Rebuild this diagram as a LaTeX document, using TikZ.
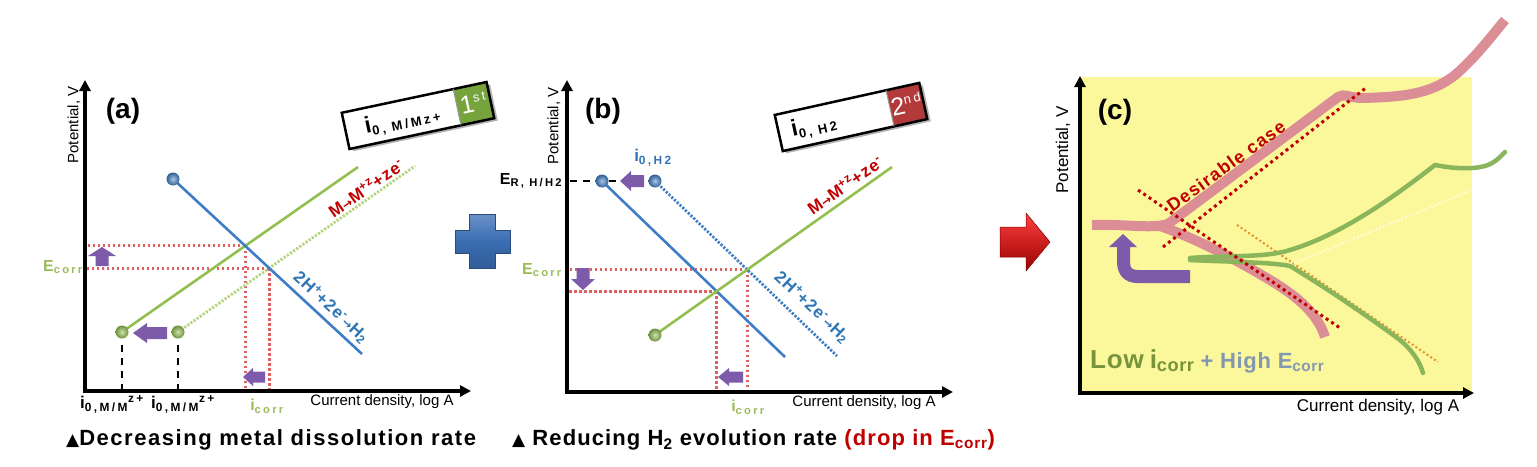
\documentclass[tikz,border=0pt]{standalone}
\usepackage{fontspec}
\setmainfont{Liberation Sans}
\newfontfamily\dejavu{DejaVu Sans}
\newfontfamily\spc[LetterSpace=20]{Liberation Sans}
\newfontfamily\spcb[LetterSpace=7]{Liberation Sans}
\newfontfamily\capf[LetterSpace=5]{Liberation Sans}
\newfontfamily\capfa[LetterSpace=7]{Liberation Sans}
\newfontfamily\lowf[LetterSpace=3]{Liberation Sans}
\usetikzlibrary{arrows.meta,calc}
\definecolor{lgreen}{HTML}{92C050}
\definecolor{pgreen}{HTML}{B5D47E}
\definecolor{boxgreen}{HTML}{76A33C}
\definecolor{boxred}{HTML}{B23A3A}
\definecolor{lblue}{HTML}{3F7EC6}
\definecolor{rdot}{HTML}{E26060}
\definecolor{purp}{HTML}{7E5BAA}
\definecolor{olive}{HTML}{9BBB59}
\definecolor{dred}{HTML}{C00000}
\definecolor{tblue}{HTML}{2E75B6}
\definecolor{yel}{HTML}{FBF89C}
\definecolor{pinkc}{HTML}{DC8E96}
\definecolor{cgreen}{HTML}{8AB55A}
\definecolor{orng}{HTML}{E8902A}
\definecolor{lowg}{HTML}{77933C}
\definecolor{highb}{HTML}{8497B0}
\definecolor{crossb}{HTML}{3A6DB3}
\newcommand\fs[1]{\fontsize{#1}{#1}\selectfont}
\newcommand\purparrow[6]{\fill[purp, shift={#1}, rotate=#2] (0,0) -- (#4,-#5) -- (#4,-#6) -- (#3,-#6) -- (#3,#6) -- (#4,#6) -- (#4,#5) -- cycle;}
\tikzset{
  axisline/.style={line width=3.2pt, line join=miter, {Triangle[length=11pt,width=11pt]}-{Triangle[length=11pt,width=11pt]}},
  reddot/.style={rdot, line width=2.8pt, dash pattern=on 2.6pt off 2.4pt},
  gline/.style={lgreen, line width=2.6pt},
  bline/.style={lblue, line width=2.6pt},
  gdot/.style={pgreen, line width=2.8pt, dash pattern=on 2.2pt off 1.6pt},
  bdot/.style={lblue, line width=2.8pt, dash pattern=on 2.2pt off 1.6pt},
  blackdash/.style={black, line width=2.5pt, dash pattern=on 7pt off 6pt},
  gball/.style={circle, inner sep=0pt, minimum size=13pt, shading=radial, inner color=lgreen!45!white, outer color=lgreen!75!black},
  bball/.style={circle, inner sep=0pt, minimum size=13pt, shading=radial, inner color=lblue!45!white, outer color=lblue!75!black},
  axlab/.style={font=\fs{15}},
  panlab/.style={font=\fs{28}\bfseries},
  eqred/.style={text=dred, font=\fs{17}\bfseries\spcb, inner sep=0pt},
  eqblue/.style={text=tblue, font=\fs{17}\bfseries\spcb, inner sep=0pt},
  corrlab/.style={text=olive, font=\fs{16}\bfseries, inner sep=0pt},
  ilab/.style={font=\fs{17}\bfseries, inner sep=0pt},
  caption/.style={anchor=west, font=\fs{22}\bfseries\capf, inner sep=0pt},
  pinkline/.style={pinkc, line width=10pt, line cap=butt},
  cgline/.style={cgreen, line width=4.5pt, line cap=round},
  ddot/.style={dred, line width=3pt, dash pattern=on 3pt off 3.5pt},
}
\begin{document}
\begin{tikzpicture}[x=1pt,y=-1pt]
\useasboundingbox (0,0) rectangle (1537,466);
% ================= panel (a)
\coordinate (aO) at (85,391);
\coordinate (aG1) at (122,332); \coordinate (aG1e) at (358,167);
\coordinate (aG2) at (178,332); \coordinate (aG2e) at (415,166);
\coordinate (aB) at (173,179); \coordinate (aBe) at (362,354);
\coordinate (aX1) at (intersection of aG1--aG1e and aB--aBe);
\coordinate (aX2) at (intersection of aG2--aG2e and aB--aBe);
\draw[reddot] (aX1) -- (aX1 -| aO);
\draw[reddot] (aX2) -- (aX2 -| aO);
\draw[reddot] (aX1) -- (aX1 |- aO);
\draw[reddot] (aX2) -- (aX2 |- aO);
\draw[gdot] (aG2) -- (aG2e);
\draw[gline] (aG1) -- (aG1e);
\draw[bline] (aB) -- (aBe);
\draw[blackdash] ($(aG1)+(0,13)$) -- (aG1 |- aO);
\draw[blackdash] ($(aG2)+(0,13)$) -- (aG2 |- aO);
\node[gball] (ga1) at (aG1) {};
\node[gball] (ga2) at (aG2) {};
\node[bball] (ba1) at (aB) {};
\draw[axisline] (85,80) -- (aO) -- (471,391);
\purparrow{(133,333)}{0}{34}{14}{10}{6}
\purparrow{(243,377)}{0}{22}{10}{9}{5.5}
\purparrow{(102,247)}{-90}{19}{9}{14}{6.5}
\node[panlab] (la) at (123,111) {(a)};
\node[axlab, rotate=90] (pa) at (74,125) {Potential, V};
\node[axlab] (xa) at (382,402) {Current density, log A};
\node[corrlab] (ea) at (63,267) {E\textsubscript{\spc corr}};
\node[corrlab] (ia) at (267,406) {i\textsubscript{\spc corr}};
\node[ilab] (i1) at (112,404) {i\textsubscript{\spc 0,M/M}\textsuperscript{\spc z+}};
\node[ilab] (i2) at (183,404) {i\textsubscript{\spc 0,M/M}\textsuperscript{\spc z+}};
\node[eqred, rotate=35] (ma) at (366,188) {M{\dejavu\fs{12}→}M\textsuperscript{+z}+ze\textsuperscript{-}};
\node[eqblue, rotate=-43] (ha) at (331,307) {2H\textsuperscript{+}+2e\textsuperscript{-}{\dejavu\fs{12}→}H\textsubscript{2}};
\begin{scope}[shift={(418,115.5)}, rotate=12, transform shape]
  \fill[black!30] (-71,-15.5) rectangle (77,21.5);
  \fill[white] (-74,-18.5) rectangle (74,18.5);
  \fill[boxgreen] (40,-18.5) rectangle (74,18.5);
  \draw[line width=2.5pt] (-74,-18.5) rectangle (74,18.5);
  \draw[line width=1pt, black!40] (40,-18.5) -- (40,18.5);
  \node[font=\fs{23}\bfseries, inner sep=0pt] (boxa) at (-16,1) {i\textsubscript{\fs{13}\spc 0, M/Mz+}};
  \node[font=\fs{25}, text=white, inner sep=0pt] (firsta) at (57,-1) {1\textsuperscript{\fs{13}\spc st}};
\end{scope}
% ================= plus
\shade[top color=crossb!75!white, bottom color=crossb!85!black, middle color=crossb, draw=crossb!70!black, line width=0.6pt]
  (469,214) -- (495,214) -- (495,230) -- (510,230) -- (510,253) -- (495,253) -- (495,268) -- (469,268) -- (469,253) -- (455,253) -- (455,230) -- (469,230) -- cycle;
% ================= panel (b)
\coordinate (bO) at (567,392);
\coordinate (bB1) at (602,181); \coordinate (bB1e) at (785,357);
\coordinate (bB2) at (655,181); \coordinate (bB2e) at (837,356);
\coordinate (bG) at (655,335); \coordinate (bGe) at (892,167);
\coordinate (bX1) at (intersection of bG--bGe and bB2--bB2e);
\coordinate (bX2) at (intersection of bG--bGe and bB1--bB1e);
\draw[reddot] (bX1) -- (bX1 -| bO);
\draw[reddot] (bX2) -- (bX2 -| bO);
\draw[reddot] (bX1) -- (bX1 |- bO);
\draw[reddot] (bX2) -- (bX2 |- bO);
\draw[blackdash] (bB2) -- (bB2 -| bO);
\draw[bdot] (bB2) -- (bB2e);
\draw[bline] (bB1) -- (bB1e);
\draw[gline] (bG) -- (bGe);
\node[bball] (bb1) at (bB1) {};
\node[bball] (bb2) at (bB2) {};
\node[gball] (gb1) at (bG) {};
\draw[axisline] (567,80) -- (bO) -- (953,392);
\purparrow{(620,181)}{0}{24}{11}{10}{6}
\purparrow{(718,377)}{0}{25}{11}{9}{5.5}
\purparrow{(583,290)}{90}{22}{11}{12}{6.5}
\node[panlab] (lb) at (603,111) {(b)};
\node[axlab, rotate=90] (pb) at (554,126) {Potential, V};
\node[axlab] (xb) at (864,403) {Current density, log A};
\node[corrlab] (eb) at (542,270) {E\textsubscript{\spc corr}};
\node[corrlab] (ib) at (748,407) {i\textsubscript{\spc corr}};
\node[ilab, font=\fs{16}\bfseries] (erb) at (531,181) {E\textsubscript{\spc R, H/H2}};
\node[ilab, text=tblue] (i0b) at (653,158) {i\textsubscript{\spc 0,H2}};
\node[eqred, rotate=35] (mb) at (845,185) {M{\dejavu\fs{12}→}M\textsuperscript{+z}+ze\textsuperscript{-}};
\node[eqblue, rotate=-43] (hb) at (812,307) {2H\textsuperscript{+}+2e\textsuperscript{-}{\dejavu\fs{12}→}H\textsubscript{2}};
\begin{scope}[shift={(851,117)}, rotate=12.5, transform shape]
  \fill[black!30] (-71,-15.5) rectangle (77,21.5);
  \fill[white] (-74,-18.5) rectangle (74,18.5);
  \fill[boxred] (40,-18.5) rectangle (74,18.5);
  \draw[line width=2.5pt] (-74,-18.5) rectangle (74,18.5);
  \draw[line width=1pt, black!40] (40,-18.5) -- (40,18.5);
  \node[font=\fs{23}\bfseries, inner sep=0pt] (boxb) at (-38,1) {i\textsubscript{\fs{13}\spc 0, H2}};
  \node[font=\fs{25}, text=white, inner sep=0pt] (seconda) at (57,-1) {2\textsuperscript{\fs{13}\spc nd}};
\end{scope}
% ================= red arrow
\shade[top color=red!75!white, bottom color=red!60!black, draw=red!50!black, line width=0.5pt]
  (1000,227) -- (1026,227) -- (1026,213) -- (1050,242) -- (1026,271) -- (1026,257) -- (1000,257) -- cycle;
% ================= panel (c)
\fill[yel] (1080,77) rectangle (1472,392);
\draw[orng, line width=2pt, dash pattern=on 2pt off 2.5pt] (1237,225) -- (1438,362);
\draw[white!85!yellow, line width=2pt, dash pattern=on 2pt off 2pt] (1283,268) -- (1472,190);
\draw[pinkline] (1092,225) .. controls (1130,224) and (1150,229) .. (1168,224)
   -- (1338,97) .. controls (1344,93) and (1350,98) .. (1362,98)
   .. controls (1400,97) and (1430,95) .. (1455,75) .. controls (1475,58) and (1490,38) .. (1505,20);
\draw[pinkline] (1160,226) .. controls (1200,240) and (1240,262) .. (1270,280)
   .. controls (1300,298) and (1318,315) .. (1325,337);
\draw[cgline] (1190,258) .. controls (1230,255) and (1265,258) .. (1290,250)
   .. controls (1340,235) and (1390,200) .. (1435,165)
   .. controls (1450,168) and (1470,170) .. (1485,166) .. controls (1495,163) and (1500,157) .. (1505,152);
\draw[cgline] (1190,260) .. controls (1230,262) and (1270,262) .. (1290,266)
   .. controls (1330,290) and (1380,325) .. (1400,340) .. controls (1412,350) and (1420,362) .. (1423,373);
\draw[ddot] (1163,247) -- (1367,87);
\draw[ddot] (1138,190) -- (1340,328);
\fill[purp] (1123,234) -- (1137,247) -- (1130,247) -- (1130,262) .. controls (1130,268) and (1132,270) .. (1138,270)
   -- (1190,270) -- (1190,283) -- (1137,283) .. controls (1125,283) and (1117,275) .. (1117,262) -- (1117,247) -- (1109,247) -- cycle;
\draw[axisline] (1080,76) -- (1080,393) -- (1474,393);
\node[panlab] (lcc) at (1115,112) {(c)};
\node[axlab, font=\fs{17}, rotate=90] (pc) at (1063,150) {Potential, V};
\node[axlab, font=\fs{17}] (xc) at (1378,407) {Current density, log A};
\node[text=dred, font=\fs{18}\bfseries\spcb, rotate=36] (des) at (1226,166) {Desirable case};
\node[anchor=base west, inner sep=0pt, font=\bfseries\lowf] (low) at (1090,368)
  {\textcolor{lowg}{\fs{26}Low\hspace{6pt}i\textsubscript{corr}}\hspace{6pt}\textcolor{highb}{\fs{22}+ High E\textsubscript{corr}}};
% ================= captions
\node[caption, font=\fs{22}\bfseries\capfa] (capa) at (66,440) {{\dejavu\fs{17}▲}Decreasing metal dissolution rate};
\node[caption] (capb) at (512,440) {{\dejavu\fs{17}▲} Reducing H\textsubscript{2} evolution rate \textcolor{dred}{(drop in E\textsubscript{corr})}};
\end{tikzpicture}
\end{document}
